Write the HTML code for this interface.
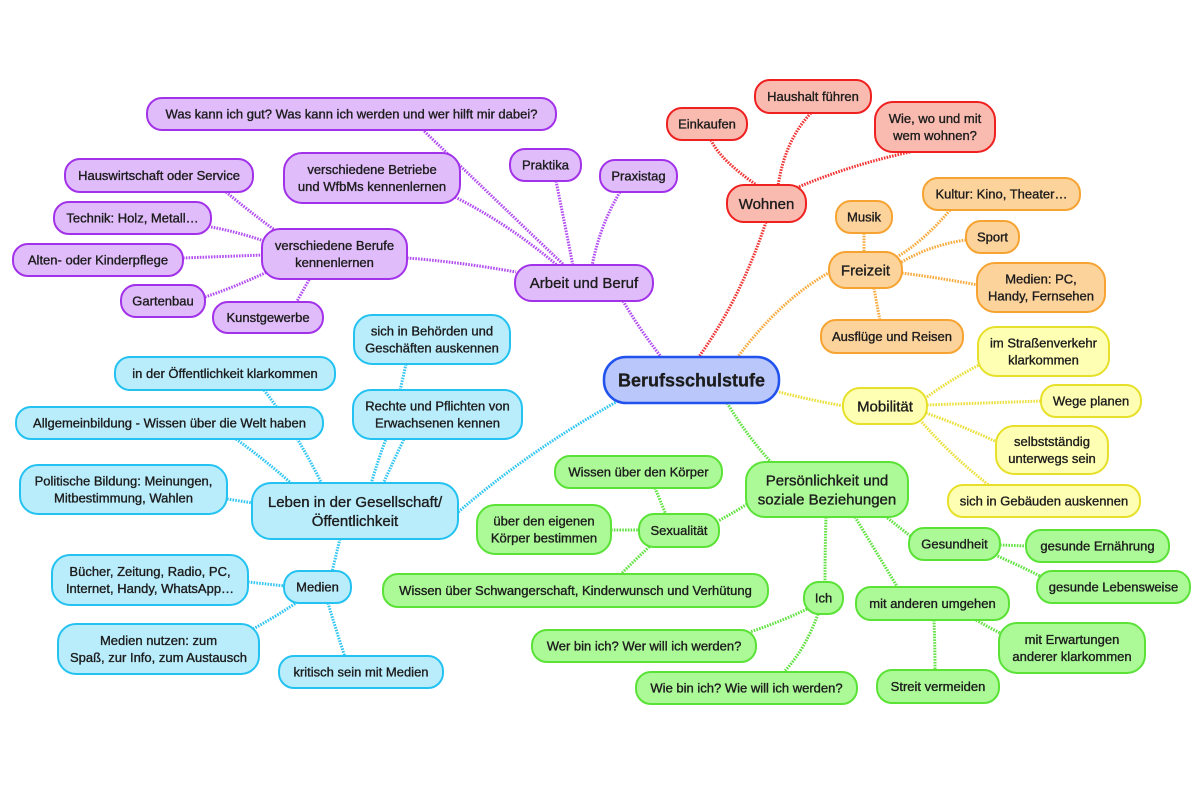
<!DOCTYPE html>
<html><head><meta charset="utf-8">
<style>
html,body{margin:0;padding:0;background:#fff;}
svg{display:block;}
text{font-family:"Liberation Sans",sans-serif;font-size:13px;fill:#1c1c1c;text-anchor:middle;stroke:#1c1c1c;stroke-width:0.35px;}
text.m{font-size:15px;}
text.c{font-size:18px;font-weight:bold;stroke-width:0.3px;}
.l{fill:none;stroke-width:3;stroke-dasharray:1.6 1.2;}
.pu{stroke:#b24ef2;} .re{stroke:#f03434;} .or{stroke:#f8aa3c;} .ye{stroke:#ece03c;} .gr{stroke:#62e242;} .bl{stroke:#32c6f2;}
rect{stroke-width:2;}
.P{fill:#e0bcfa;stroke:#a232ea;}
.R{fill:#f9bbb0;stroke:#ee2020;}
.O{fill:#fdd39c;stroke:#f6a332;}
.Y{fill:#ffffb4;stroke:#e6e02a;}
.G{fill:#acf998;stroke:#5ae236;}
.B{fill:#baedfc;stroke:#24c2f0;}
.C{fill:#b9c7fa;stroke:#2152ee;stroke-width:2.5;}
</style></head>
<body>
<svg width="1200" height="800" viewBox="0 0 1200 800" xmlns="http://www.w3.org/2000/svg">
<g>
<path class="l pu" d="M623,301 Q640,330 662,358"/>
<path class="l pu" d="M565,266 Q480,185 423,130"/>
<path class="l pu" d="M455,197 Q510,225 558,266"/>
<path class="l pu" d="M556,181 Q565,225 573,266"/>
<path class="l pu" d="M620,192 Q600,225 592,266"/>
<path class="l pu" d="M407,258 Q460,262 516,272"/>
<path class="l pu" d="M226,192 Q250,212 276,231"/>
<path class="l pu" d="M211,227 Q238,232 264,241"/>
<path class="l pu" d="M183,258 L263,255"/>
<path class="l pu" d="M205,297 Q235,287 267,272"/>
<path class="l pu" d="M296,303 L310,278"/>

<path class="l re" d="M766,222 Q740,300 698,358"/>
<path class="l re" d="M711,140 Q720,160 758,186"/>
<path class="l re" d="M811,113 Q785,140 778,186"/>
<path class="l re" d="M910,152 Q850,165 796,188"/>

<path class="l or" d="M830,272 Q780,300 737,358"/>
<path class="l or" d="M864,233 L864,253"/>
<path class="l or" d="M950,210 Q925,240 897,257"/>
<path class="l or" d="M966,240 Q930,245 900,263"/>
<path class="l or" d="M902,273 Q940,278 978,285"/>
<path class="l or" d="M874,288 Q877,305 880,321"/>

<path class="l ye" d="M779,392 Q810,400 844,406"/>
<path class="l ye" d="M927,397 Q950,380 979,365"/>
<path class="l ye" d="M927,405 L1042,401"/>
<path class="l ye" d="M926,413 Q960,425 997,442"/>
<path class="l ye" d="M920,420 Q950,455 990,486"/>

<path class="l gr" d="M727,403 Q750,440 772,463"/>
<path class="l gr" d="M747,504 Q735,512 718,521"/>
<path class="l gr" d="M655,488 Q660,500 666,515"/>
<path class="l gr" d="M611,530 L640,530"/>
<path class="l gr" d="M620,575 Q635,560 650,546"/>
<path class="l gr" d="M826,517 Q825,550 825,583"/>
<path class="l gr" d="M855,517 Q875,550 898,588"/>
<path class="l gr" d="M885,516 Q900,528 913,538"/>
<path class="l gr" d="M807,609 Q780,622 750,632"/>
<path class="l gr" d="M818,614 Q805,650 783,673"/>
<path class="l gr" d="M1000,545 L1027,546"/>
<path class="l gr" d="M995,555 Q1018,565 1040,576"/>
<path class="l gr" d="M934,620 Q935,645 935,671"/>
<path class="l gr" d="M976,620 Q990,628 1002,634"/>

<path class="l bl" d="M618,401 Q530,450 457,513"/>
<path class="l bl" d="M371,484 Q378,460 386,439"/>
<path class="l bl" d="M383,484 Q393,462 404,439"/>
<path class="l bl" d="M406,364 L400,391"/>
<path class="l bl" d="M264,390 Q295,430 322,484"/>
<path class="l bl" d="M236,439 Q265,460 292,484"/>
<path class="l bl" d="M227,499 L253,503"/>
<path class="l bl" d="M340,539 Q336,555 332,572"/>
<path class="l bl" d="M248,582 L285,586"/>
<path class="l bl" d="M253,629 Q275,617 296,603"/>
<path class="l bl" d="M328,603 Q336,630 345,657"/>
</g>

<rect class="P" x="147" y="98" width="409" height="32" rx="15"/>
<text x="351.5" y="118.5">Was kann ich gut? Was kann ich werden und wer hilft mir dabei?</text>
<rect class="P" x="65" y="159" width="188" height="33" rx="15"/>
<text x="159" y="180">Hauswirtschaft oder Service</text>
<rect class="P" x="54" y="202" width="157" height="32" rx="15"/>
<text x="132.5" y="222.5">Technik: Holz, Metall…</text>
<rect class="P" x="13" y="244" width="170" height="32" rx="15"/>
<text x="98" y="264.5">Alten- oder Kinderpflege</text>
<rect class="P" x="121" y="285" width="84" height="32" rx="15"/>
<text x="163" y="305.5">Gartenbau</text>
<rect class="P" x="213" y="302" width="110" height="31" rx="15"/>
<text x="268" y="322">Kunstgewerbe</text>
<rect class="P" x="262" y="229" width="145" height="50" rx="18"/>
<text x="334.5" y="250">verschiedene Berufe</text>
<text x="334.5" y="267">kennenlernen</text>
<rect class="P" x="284" y="153" width="176" height="50" rx="18"/>
<text x="372" y="174">verschiedene Betriebe</text>
<text x="372" y="191">und WfbMs kennenlernen</text>
<rect class="P" x="510" y="149" width="71" height="32" rx="15"/>
<text x="545.5" y="169.5">Praktika</text>
<rect class="P" x="600" y="160" width="77" height="32" rx="15"/>
<text x="638.5" y="180.5">Praxistag</text>
<rect class="P" x="515" y="265" width="138" height="36" rx="17"/>
<text class="m" x="584" y="288">Arbeit und Beruf</text>

<rect class="R" x="667" y="108" width="80" height="32" rx="15"/>
<text x="707" y="128.5">Einkaufen</text>
<rect class="R" x="755" y="80" width="116" height="33" rx="15"/>
<text x="813" y="101">Haushalt führen</text>
<rect class="R" x="875" y="102" width="120" height="50" rx="18"/>
<text x="935" y="123">Wie, wo und mit</text>
<text x="935" y="140">wem wohnen?</text>
<rect class="R" x="727" y="185" width="79" height="37" rx="17"/>
<text class="m" x="766.5" y="209">Wohnen</text>

<rect class="O" x="836" y="201" width="56" height="32" rx="15"/>
<text x="864" y="221.5">Musik</text>
<rect class="O" x="923" y="178" width="157" height="32" rx="15"/>
<text x="1001.5" y="198.5">Kultur: Kino, Theater…</text>
<rect class="O" x="966" y="221" width="53" height="32" rx="15"/>
<text x="992.5" y="241.5">Sport</text>
<rect class="O" x="829" y="252" width="73" height="36" rx="17"/>
<text class="m" x="865.5" y="275.5">Freizeit</text>
<rect class="O" x="977" y="263" width="128" height="49" rx="18"/>
<text x="1041" y="283.5">Medien: PC,</text>
<text x="1041" y="300.5">Handy, Fernsehen</text>
<rect class="O" x="821" y="320" width="142" height="33" rx="15"/>
<text x="892" y="341">Ausflüge und Reisen</text>

<rect class="Y" x="978" y="327" width="131" height="49" rx="18"/>
<text x="1043.5" y="347.5">im Straßenverkehr</text>
<text x="1043.5" y="364.5">klarkommen</text>
<rect class="Y" x="843" y="388" width="84" height="36" rx="17"/>
<text class="m" x="885" y="411.5">Mobilität</text>
<rect class="Y" x="1041" y="385" width="100" height="32" rx="15"/>
<text x="1091" y="405.5">Wege planen</text>
<rect class="Y" x="996" y="426" width="112" height="48" rx="18"/>
<text x="1052" y="446">selbstständig</text>
<text x="1052" y="463">unterwegs sein</text>
<rect class="Y" x="948" y="485" width="192" height="32" rx="15"/>
<text x="1044" y="505.5">sich in Gebäuden auskennen</text>

<rect class="G" x="746" y="462" width="162" height="55" rx="19"/>
<text class="m" x="827" y="485.3">Persönlichkeit und</text>
<text class="m" x="827" y="504.3">soziale Beziehungen</text>
<rect class="G" x="555" y="456" width="167" height="32" rx="15"/>
<text x="638.5" y="476.5">Wissen über den Körper</text>
<rect class="G" x="477" y="505" width="134" height="49" rx="18"/>
<text x="544" y="525.5">über den eigenen</text>
<text x="544" y="542.5">Körper bestimmen</text>
<rect class="G" x="639" y="514" width="80" height="33" rx="15"/>
<text x="679" y="535">Sexualität</text>
<rect class="G" x="383" y="574" width="385" height="33" rx="15"/>
<text x="575.5" y="595">Wissen über Schwangerschaft, Kinderwunsch und Verhütung</text>
<rect class="G" x="532" y="630" width="224" height="32" rx="15"/>
<text x="644" y="650.5">Wer bin ich? Wer will ich werden?</text>
<rect class="G" x="636" y="672" width="221" height="32" rx="15"/>
<text x="746.5" y="692.5">Wie bin ich? Wie will ich werden?</text>
<rect class="G" x="804" y="582" width="39" height="32" rx="15"/>
<text x="823.5" y="602.5">Ich</text>
<rect class="G" x="856" y="587" width="153" height="33" rx="15"/>
<text x="932.5" y="608">mit anderen umgehen</text>
<rect class="G" x="909" y="528" width="91" height="32" rx="15"/>
<text x="954.5" y="548.5">Gesundheit</text>
<rect class="G" x="1026" y="530" width="143" height="32" rx="15"/>
<text x="1097.5" y="550.5">gesunde Ernährung</text>
<rect class="G" x="1037" y="571" width="153" height="32" rx="15"/>
<text x="1113.5" y="591.5">gesunde Lebensweise</text>
<rect class="G" x="999" y="623" width="146" height="50" rx="18"/>
<text x="1072" y="644">mit Erwartungen</text>
<text x="1072" y="661">anderer klarkommen</text>
<rect class="G" x="877" y="670" width="122" height="33" rx="15"/>
<text x="938" y="691">Streit vermeiden</text>

<rect class="B" x="354" y="315" width="156" height="49" rx="18"/>
<text x="432" y="335.5">sich in Behörden und</text>
<text x="432" y="352.5">Geschäften auskennen</text>
<rect class="B" x="115" y="357" width="220" height="33" rx="15"/>
<text x="225" y="378">in der Öffentlichkeit klarkommen</text>
<rect class="B" x="16" y="407" width="307" height="32" rx="15"/>
<text x="169.5" y="427.5">Allgemeinbildung - Wissen über die Welt haben</text>
<rect class="B" x="353" y="390" width="169" height="49" rx="18"/>
<text x="437.5" y="410.5">Rechte und Pflichten von</text>
<text x="437.5" y="427.5">Erwachsenen kennen</text>
<rect class="B" x="20" y="465" width="207" height="49" rx="18"/>
<text x="123.5" y="485.5">Politische Bildung: Meinungen,</text>
<text x="123.5" y="502.5">Mitbestimmung, Wahlen</text>
<rect class="B" x="252" y="483" width="206" height="56" rx="19"/>
<text class="m" x="355" y="506.8">Leben in der Gesellschaft/</text>
<text class="m" x="355" y="525.8">Öffentlichkeit</text>
<rect class="B" x="52" y="555" width="196" height="50" rx="18"/>
<text x="150" y="576">Bücher, Zeitung, Radio, PC,</text>
<text x="150" y="593">Internet, Handy, WhatsApp…</text>
<rect class="B" x="284" y="571" width="67" height="32" rx="15"/>
<text x="317.5" y="591.5">Medien</text>
<rect class="B" x="58" y="624" width="201" height="50" rx="18"/>
<text x="158.5" y="645">Medien nutzen: zum</text>
<text x="158.5" y="662">Spaß, zur Info, zum Austausch</text>
<rect class="B" x="279" y="656" width="164" height="32" rx="15"/>
<text x="361" y="676.5">kritisch sein mit Medien</text>

<rect class="C" x="604" y="357" width="175" height="46" rx="22"/>
<text class="c" x="691.5" y="386.5">Berufsschulstufe</text>
</svg>
</body></html>
